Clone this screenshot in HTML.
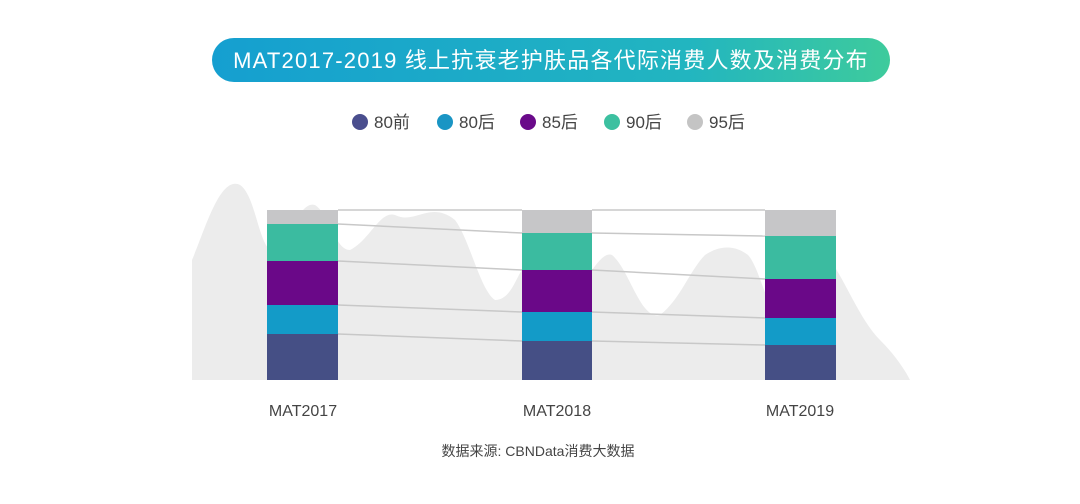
<!DOCTYPE html>
<html><head><meta charset="utf-8"><style>
body{margin:0;width:1080px;height:499px;background:#fff;overflow:hidden;font-family:"Liberation Sans","Noto Sans CJK SC",sans-serif;}
</style></head><body>
<svg width="1080" height="499" xmlns="http://www.w3.org/2000/svg">
<defs><linearGradient id="g" x1="0" x2="1"><stop offset="0" stop-color="#159fd0"/><stop offset="0.7" stop-color="#22b5c0"/><stop offset="1" stop-color="#3ecb9c"/></linearGradient></defs>
<path d="M192 380 L192 260 C205 230 220 175 240 185 C255 195 258 240 270 250 C290 240 300 200 315 205 C330 215 335 250 350 250 C370 240 380 210 395 215 C415 225 430 200 455 220 C470 240 480 290 495 300 C510 300 515 280 522 270 C540 250 555 300 570 300 C585 285 600 250 612 255 C630 270 640 320 660 315 C680 300 690 270 705 255 C720 245 735 245 748 255 C762 270 770 330 790 320 C810 300 815 250 830 260 C845 280 860 320 880 340 C895 355 905 370 910 380 Z" fill="#ececec"/>
<rect x="212" y="38" width="678" height="44" rx="22" fill="url(#g)"/>
<text x="551" y="68" text-anchor="middle" font-size="22" letter-spacing="1.2" fill="#fff">MAT2017-2019 线上抗衰老护肤品各代际消费人数及消费分布</text>
<g font-size="17" fill="#444">
<circle cx="360" cy="122" r="8" fill="#4a4e8e"/><text x="374" y="128">80前</text>
<circle cx="445" cy="122" r="8" fill="#1a95c4"/><text x="459" y="128">80后</text>
<circle cx="528" cy="122" r="8" fill="#6a0a8a"/><text x="542" y="128">85后</text>
<circle cx="612" cy="122" r="8" fill="#3cc0a0"/><text x="626" y="128">90后</text>
<circle cx="695" cy="122" r="8" fill="#c4c4c4"/><text x="709" y="128">95后</text>
</g>
<g stroke="#c8c8c8" stroke-width="1.5">
<line x1="338" y1="210" x2="522" y2="210"/><line x1="592" y1="210" x2="765" y2="210"/>
<line x1="338" y1="224" x2="522" y2="233"/><line x1="592" y1="233" x2="765" y2="236"/>
<line x1="338" y1="261" x2="522" y2="270"/><line x1="592" y1="270" x2="765" y2="279"/>
<line x1="338" y1="305" x2="522" y2="312"/><line x1="592" y1="312" x2="765" y2="318"/>
<line x1="338" y1="334" x2="522" y2="341"/><line x1="592" y1="341" x2="765" y2="345"/>
</g>
<g>
<rect x="267" y="210" width="71" height="14" fill="#c6c6c8"/>
<rect x="267" y="224" width="71" height="37" fill="#3bbba0"/>
<rect x="267" y="261" width="71" height="44" fill="#6a0888"/>
<rect x="267" y="305" width="71" height="29" fill="#139bc8"/>
<rect x="267" y="334" width="71" height="46" fill="#454f85"/>
<rect x="522" y="210" width="70" height="23" fill="#c6c6c8"/>
<rect x="522" y="233" width="70" height="37" fill="#3bbba0"/>
<rect x="522" y="270" width="70" height="42" fill="#6a0888"/>
<rect x="522" y="312" width="70" height="29" fill="#139bc8"/>
<rect x="522" y="341" width="70" height="39" fill="#454f85"/>
<rect x="765" y="210" width="71" height="26" fill="#c6c6c8"/>
<rect x="765" y="236" width="71" height="43" fill="#3bbba0"/>
<rect x="765" y="279" width="71" height="39" fill="#6a0888"/>
<rect x="765" y="318" width="71" height="27" fill="#139bc8"/>
<rect x="765" y="345" width="71" height="35" fill="#454f85"/>
</g>
<g font-size="16" fill="#444" text-anchor="middle">
<text x="303" y="416">MAT2017</text><text x="557" y="416">MAT2018</text><text x="800" y="416">MAT2019</text>
</g>
<text x="538" y="456" text-anchor="middle" font-size="14" fill="#444">数据来源: CBNData消费大数据</text>
</svg>
</body></html>
